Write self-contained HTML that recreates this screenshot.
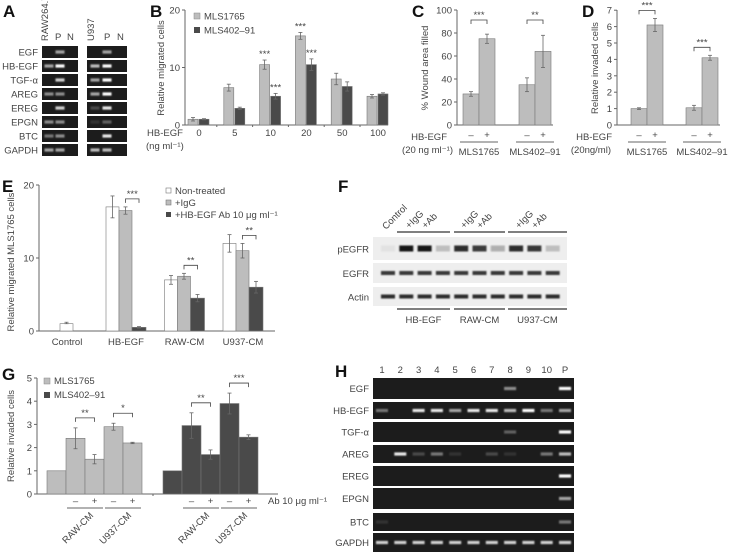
<!DOCTYPE html>
<html><head><meta charset="utf-8"><style>
html,body{margin:0;padding:0;background:#fff}
svg{display:block;font-family:"Liberation Sans",sans-serif}
text{fill:#444;font-size:9.5px}
.pl{font-size:17px;font-weight:bold;fill:#111}
.ax{stroke:#666;stroke-width:1;fill:none}
</style></head><body>
<svg id="fig" width="731" height="553" viewBox="0 0 731 553">
<defs><filter id="bl" x="-50%" y="-100%" width="200%" height="300%"><feGaussianBlur stdDeviation="0.9"/></filter></defs>
<g id="root"></g>
</svg>
<script>
// ---- Panel B data ----
const bDoses=["0","5","10","20","50","100"];
const bLight=[1,6.5,10.5,15.5,8,5];
const bDark=[1,2.9,5,10.5,6.7,5.4];
const bLightErr=[0.3,0.6,0.8,0.6,1,0.3];
const bDarkErr=[0.1,0.2,0.5,1,0.8,0.2];
const bTicks=[0,10,20];
// ---- Panel C data ----
const cGroups=["MLS1765","MLS402–91"];
const cMinus=[27,35];
const cPlus=[75,64];
const cMinusErr=[2,6];
const cPlusErr=[4,14];
const cTicks=[0,20,40,60,80,100];
const cStars=["***","**"];
// ---- Panel D data ----
const dMinus=[1,1.05];
const dPlus=[6.1,4.1];
const dMinusErr=[0.05,0.15];
const dPlusErr=[0.4,0.15];
const dTicks=[0,1,2,3,4,5,6,7];
// ---- Panel E data ----
const eCats=["Control","HB-EGF","RAW-CM","U937-CM"];
const eNon=[1,17,7,12];
const eIgG=[null,16.5,7.5,11];
const eAb=[null,0.5,4.5,6];
const eNonErr=[0.2,1.5,0.6,1.2];
const eIgGErr=[0,0.5,0.4,1];
const eAbErr=[0,0.1,0.5,0.8];
const eTicks=[0,10,20];
const eStars=["","***","**","**"];
// ---- Panel G data ----
const gLight=[1,2.4,1.5,2.9,2.2];
const gDark=[1,2.95,1.7,3.9,2.45];
const gLightErr=[0,0.45,0.2,0.15,0.03];
const gDarkErr=[0,0.55,0.2,0.45,0.1];
const gTicks=[0,1,2,3,4,5];
const gLightStars=["**","*"];
const gDarkStars=["**","***"];

const NS="http://www.w3.org/2000/svg";
const root=document.getElementById('root');
function el(tag,attrs,parent,txt){const e=document.createElementNS(NS,tag);for(const k in attrs)e.setAttribute(k,attrs[k]);if(txt!==undefined)e.textContent=txt;(parent||root).appendChild(e);return e;}
const LIGHT="#bdbdbd",DARK="#4a4a4a";

function label(x,y,t,name,opts){const e=el('text',Object.assign({x:x,y:y},opts||{}),root,t);

return e;}
function errBar(x,yTop,yBot){el('line',{x1:x,x2:x,y1:yTop,y2:yBot,stroke:'#666','stroke-width':0.8});el('line',{x1:x-2,x2:x+2,y1:yTop,y2:yTop,stroke:'#666','stroke-width':0.8});el('line',{x1:x-2,x2:x+2,y1:yBot,y2:yBot,stroke:'#666','stroke-width':0.8});}
function bracket(x1,x2,y,t){el('path',{d:`M${x1} ${y+4}V${y}H${x2}V${y+4}`,stroke:'#444',fill:'none','stroke-width':0.8});el('text',{x:(x1+x2)/2,y:y-2,'text-anchor':'middle','font-size':8},root,t);}
function yAxis(x,y0,y1,ticks,sc,name){const a=el('line',{x1:x,x2:x,y1:y0,y2:y1,class:'ax'});


ticks.forEach(t=>{const y=sc(t);el('line',{x1:x-3,x2:x,y1:y,y2:y,class:'ax'});el('text',{x:x-5,y:y+3.5,'text-anchor':'end','font-size':10},root,t);});}
function bar(x,w,v,sc,fill,name,stroke){const y=sc(v);const r=el('rect',{x:x,y:y,width:w,height:sc(0)-y,fill:fill,stroke:stroke||'#777','stroke-width':0.6});

return r;}
function vlabel(x,y,t,name){const e=el('text',{x:x,y:y,transform:`rotate(-90 ${x} ${y})`,'text-anchor':'middle','font-size':10},root,t);

}

// Panel letters
[["A",3,17],["B",150,17],["C",412,17],["D",582,17],["E",2,192],["F",338,192],["G",2,380],["H",335,377]].forEach(p=>{const t=el('text',{x:p[1],y:p[2],class:'pl'},root,p[0]);

});

// ===== Panel B =====
const yB=v=>125-v*5.75;
yAxis(185,125,10,bTicks,yB,'b-y-axis');
el('line',{x1:185,x2:388,y1:125,y2:125,class:'ax'});
vlabel(164,68,'Relative migrated cells','b-y-axis-title');
bDoses.forEach((d,i)=>{const cx=199+i*35.8;
 bar(cx-11,10,bLight[i],yB,LIGHT,'b-bar-mls1765-'+d);
 bar(cx,10,bDark[i],yB,DARK,'b-bar-mls402-'+d);
 errBar(cx-6,yB(bLight[i]+bLightErr[i]),yB(bLight[i]-bLightErr[i]));
 errBar(cx+5,yB(bDark[i]+bDarkErr[i]),yB(bDark[i]-bDarkErr[i]));
 if(d==="10"||d==="20"){el('text',{x:cx-6,y:yB(bLight[i]+bLightErr[i])-3,'text-anchor':'middle','font-size':8},root,'***');el('text',{x:cx+5,y:yB(bDark[i]+bDarkErr[i])-3,'text-anchor':'middle','font-size':8},root,'***');}
 label(cx,136,d,'b-x-tick-'+d,{'text-anchor':'middle','font-size':10});
 if(i>0)el('line',{x1:cx-18,x2:cx-18,y1:125,y2:127,class:'ax'});
});
label(147,136,'HB-EGF','b-x-title',{'font-size':10});
label(146,149,'(ng ml\u207B\u00B9)','b-x-unit',{'font-size':10});
el('rect',{x:194,y:13,width:6,height:6,fill:LIGHT,stroke:'#888','stroke-width':0.5});
label(204,19.5,'MLS1765','b-legend-mls1765',{'font-size':10});
el('rect',{x:194,y:27,width:6,height:6,fill:DARK});
label(204,33.5,'MLS402–91','b-legend-mls402',{'font-size':10});

// ===== Panel C =====
const yC=v=>125-v*1.15;
yAxis(457,125,10,cTicks,yC,'c-y-axis');
el('line',{x1:457,x2:553,y1:125,y2:125,class:'ax'});
vlabel(428,68,'% Wound area filled','c-y-axis-title');
cGroups.forEach((g,i)=>{const x=463+i*56;
 bar(x,16,cMinus[i],yC,LIGHT,'c-bar-minus-'+i);
 bar(x+16,16,cPlus[i],yC,LIGHT,'c-bar-plus-'+i);
 errBar(x+8,yC(cMinus[i]+cMinusErr[i]),yC(cMinus[i]-cMinusErr[i]));
 errBar(x+24,yC(cPlus[i]+cPlusErr[i]),yC(cPlus[i]-cPlusErr[i]));
 bracket(x+8,x+24,20,cStars[i]);
 label(x+8,138,'–','c-minus-'+i,{'text-anchor':'middle'});
 label(x+24,138,'+','c-plus-'+i,{'text-anchor':'middle'});
 el('line',{x1:x-3,x2:x+35,y1:142,y2:142,stroke:'#666'});
 label(x+16,155,g,'c-group-'+i,{'text-anchor':'middle','font-size':10});
});
label(447,140,'HB-EGF','c-x-title',{'text-anchor':'end','font-size':10});
label(453,153,'(20 ng ml\u207B\u00B9)','c-x-unit',{'text-anchor':'end','font-size':10});

// ===== Panel D =====
const yD=v=>125-v*16.4;
yAxis(617,125,10,dTicks,yD,'d-y-axis');
el('line',{x1:617,x2:720,y1:125,y2:125,class:'ax'});
vlabel(598,68,'Relative invaded cells','d-y-axis-title');
["MLS1765","MLS402–91"].forEach((g,i)=>{const x=631+i*55;
 bar(x,16,dMinus[i],yD,LIGHT,'d-bar-minus-'+i);
 bar(x+16,16,dPlus[i],yD,LIGHT,'d-bar-plus-'+i);
 errBar(x+8,yD(dMinus[i]+dMinusErr[i]),yD(dMinus[i]-dMinusErr[i]));
 errBar(x+24,yD(dPlus[i]+dPlusErr[i]),yD(dPlus[i]-dPlusErr[i]));
 bracket(x+8,x+24,yD(dPlus[i]+dPlusErr[i])-8,'***');
 label(x+8,138,'–','d-minus-'+i,{'text-anchor':'middle'});
 label(x+24,138,'+','d-plus-'+i,{'text-anchor':'middle'});
 el('line',{x1:x-3,x2:x+35,y1:142,y2:142,stroke:'#666'});
 label(x+16,155,g,'d-group-'+i,{'text-anchor':'middle','font-size':10});
});
label(612,140,'HB-EGF','d-x-title',{'text-anchor':'end','font-size':10});
label(611,153,'(20ng/ml)','d-x-unit',{'text-anchor':'end','font-size':10});

// ===== Panel E =====
const yE=v=>331-v*7.3;
yAxis(39,331,185,eTicks,yE,'e-y-axis');
el('line',{x1:39,x2:275,y1:331,y2:331,class:'ax'});
vlabel(14,262,'Relative migrated MLS1765 cells','e-y-axis-title');
eCats.forEach((c,i)=>{
 if(i===0){bar(60,13,eNon[0],yE,'#fff','e-bar-control');errBar(66.5,yE(eNon[0]+eNonErr[0]),yE(eNon[0]));label(67,345,c,'e-x-control',{'text-anchor':'middle','font-size':10});return;}
 const x=106+(i-1)*58.5;
 bar(x,13,eNon[i],yE,'#fff','e-bar-non-'+i);
 bar(x+13,13,eIgG[i],yE,LIGHT,'e-bar-igg-'+i);
 bar(x+26,14,eAb[i],yE,DARK,'e-bar-ab-'+i);
 errBar(x+6.5,yE(eNon[i]+eNonErr[i]),yE(eNon[i]-eNonErr[i]));
 errBar(x+19.5,yE(eIgG[i]+eIgGErr[i]),yE(eIgG[i]-eIgGErr[i]));
 errBar(x+33,yE(eAb[i]+eAbErr[i]),yE(eAb[i]-eAbErr[i]));
 bracket(x+19.5,x+33,yE(eIgG[i]+eIgGErr[i])-8,eStars[i]);
 label(x+20,345,c,'e-x-'+i,{'text-anchor':'middle','font-size':10});
});
el('rect',{x:166,y:188,width:5,height:5,fill:'#fff',stroke:'#777','stroke-width':0.6});
label(175,194,'Non-treated','e-legend-non',{'font-size':10});
el('rect',{x:166,y:200,width:5,height:5,fill:LIGHT,stroke:'#777','stroke-width':0.6});
label(175,206,'+IgG','e-legend-igg',{'font-size':10});
el('rect',{x:166,y:212,width:5,height:5,fill:DARK});
label(175,218,'+HB-EGF Ab 10 \u03BCg ml\u207B\u00B9','e-legend-ab',{'font-size':10});

// ===== Panel G =====
const yG=v=>494-v*23.2;
yAxis(37,494,378,gTicks,yG,'g-y-axis');
el('line',{x1:37,x2:278,y1:494,y2:494,class:'ax'});
el('line',{x1:153,x2:153,y1:494,y2:496,class:'ax'});
vlabel(14,436,'Relative invaded cells','g-y-axis-title');
[[gLight,gLightErr,LIGHT,47,gLightStars,'light'],[gDark,gDarkErr,DARK,163,gDarkStars,'dark']].forEach(s=>{
 const [vals,errs,col,x0,stars,nm]=s;
 vals.forEach((v,j)=>{const x=x0+j*19;bar(x,19,v,yG,col,'g-bar-'+nm+'-'+j);
  if(errs[j]>0)errBar(x+9.5,yG(v+errs[j]),yG(v-errs[j]));
  if(j>0)label(x+9.5,504,j%2?'–':'+','g-ab-'+nm+'-'+j,{'text-anchor':'middle'});});
 [0,1].forEach(k=>{const xa=x0+19+k*38;
  bracket(xa+9.5,xa+28.5,yG(Math.max(vals[1+2*k]+errs[1+2*k],vals[2+2*k]+errs[2+2*k]))-10,stars[k]);
  el('line',{x1:xa+1,x2:xa+37,y1:508,y2:508,stroke:'#666'});
  label(xa+28,516,k?'U937-CM':'RAW-CM','g-cond-'+nm+'-'+k,{'text-anchor':'end','font-size':10,transform:`rotate(-45 ${xa+28} 516)`});});
});
label(268,504,'Ab 10 \u03BCg ml\u207B\u00B9','g-ab-label',{'font-size':10});
el('rect',{x:44,y:378,width:6,height:6,fill:LIGHT,stroke:'#888','stroke-width':0.5});
label(54,384,'MLS1765','g-legend-mls1765',{'font-size':10});
el('rect',{x:44,y:392,width:6,height:6,fill:DARK});
label(54,398,'MLS402–91','g-legend-mls402',{'font-size':10});

// ===== Gels =====
function gel(x,y,w,h,lanes,ints,name,bw){
 const g=el('rect',{x:x,y:y,width:w,height:h,fill:'#1c1c1c'});
 
 
 ints.forEach((v,i)=>{if(v>0)el('rect',{x:lanes[i]-bw/2,y:y+h/2-1.6,width:bw,height:3.2,fill:`rgba(255,255,255,${Math.min(1,v)})`,filter:'url(#bl)'});});
}
const aRows=["EGF","HB-EGF","TGF-\u03B1","AREG","EREG","EPGN","BTC","GAPDH"];
const aLeft=[[0,0.6],[0.6,1],[0,0.8],[0.5,0.5],[0,0.8],[0.5,0.5],[0.4,0.5],[0.6,0.6]];
const aRight=[[0,0.6],[0.7,1],[0.6,1],[0.6,1],[0.2,0.9],[0.1,0.3],[0,0.9],[0.7,0.7]];
aRows.forEach((r,k)=>{const y=46+k*14;
 gel(42,y,36,12,[49,60,71],aLeft[k],'a-gel-raw-'+k,9);
 gel(87,y,40,12,[95,107,120],aRight[k],'a-gel-u937-'+k,9);
 label(38,y+9.5,r,'a-row-'+k,{'text-anchor':'end','font-size':10});});
label(48,41,'RAW264.7','a-col-raw',{'font-size':9,transform:'rotate(-90 48 41)'});
label(55,40,'P','a-col-p1',{'font-size':10});label(67,40,'N','a-col-n1',{'font-size':10});
label(94,41,'U937','a-col-u937',{'font-size':9,transform:'rotate(-90 94 41)'});
label(104,40,'P','a-col-p2',{'font-size':10});label(117,40,'N','a-col-n2',{'font-size':10});

const hRows=["EGF","HB-EGF","TGF-\u03B1","AREG","EREG","EPGN","BTC","GAPDH"];
const hInts=[[0,0,0,0,0,0,0,0.5,0,0,1],[0.4,0,0.9,0.9,0.6,0.9,0.9,0.7,1,0.4,0.6],[0,0,0,0,0,0,0,0.3,0,0,1],[0,0.9,0.2,0.4,0.1,0,0.2,0.1,0,0.4,0.7],[0,0,0,0,0,0,0,0,0,0,1],[0,0,0,0,0,0,0,0,0,0,0.6],[0.1,0,0,0,0,0,0,0,0,0,0.4],[0.8,0.8,0.8,0.8,0.8,0.8,0.8,0.8,0.8,0.8,0.8]];
const hY=[378,402,422,445,466,488,513,533],hH=[21,17,20,18,20,21,18,19];
const hLanes=[...Array(11)].map((_,i)=>382+i*18.3);
hRows.forEach((r,k)=>{gel(373,hY[k],201,hH[k],hLanes,hInts[k],'h-gel-'+k,12);
 label(369,hY[k]+hH[k]/2+3.5,r,'h-row-'+k,{'text-anchor':'end','font-size':10});});
["1","2","3","4","5","6","7","8","9","10","P"].forEach((t,i)=>label(hLanes[i],373,t,'h-lane-'+t,{'text-anchor':'middle','font-size':10}));

// ===== Panel F blot =====
const fLanes=[...Array(10)].map((_,i)=>388+i*18.3);
const fP=[0.05,1,1,0.2,0.9,0.8,0.3,0.9,0.85,0.2],fE=Array(10).fill(0.85),fA=Array(10).fill(0.9);
[["pEGFR",237,23,fP,6],["EGFR",263,20,fE,4],["Actin",287,19,fA,4]].forEach((r,k)=>{
 const b=el('rect',{x:373,y:r[1],width:194,height:r[2],fill:'#eeeeee'});
 
 
 r[3].forEach((v,i)=>el('rect',{x:fLanes[i]-7,y:r[1]+r[2]/2-r[4]/2,width:14,height:r[4],fill:`rgba(20,20,20,${v})`,filter:'url(#bl)'}));
 label(369,r[1]+r[2]/2+4,r[0],'f-row-'+k,{'text-anchor':'end','font-size':10});});
[[397,450,'HB-EGF'],[454,505,'RAW-CM'],[508,567,'U937-CM']].forEach((g,i)=>{
 el('line',{x1:g[0],x2:g[1],y1:232,y2:232,stroke:'#333','stroke-width':1.2});
 el('line',{x1:g[0],x2:g[1],y1:309,y2:309,stroke:'#333','stroke-width':1.2});
 label((g[0]+g[1])/2,323,g[2],'f-group-'+i,{'text-anchor':'middle','font-size':10});
 label(fLanes[1+3*i]+3,229,'+IgG','f-igg-'+i,{'font-size':8.5,transform:`rotate(-45 ${fLanes[1+3*i]+3} 229)`});
 label(fLanes[2+3*i]+1,229,'+Ab','f-ab-'+i,{'font-size':8.5,transform:`rotate(-45 ${fLanes[2+3*i]+1} 229)`});
});
label(386,230,'Control','f-control',{'font-size':9,transform:'rotate(-45 386 230)'});
</script>
</body></html>
